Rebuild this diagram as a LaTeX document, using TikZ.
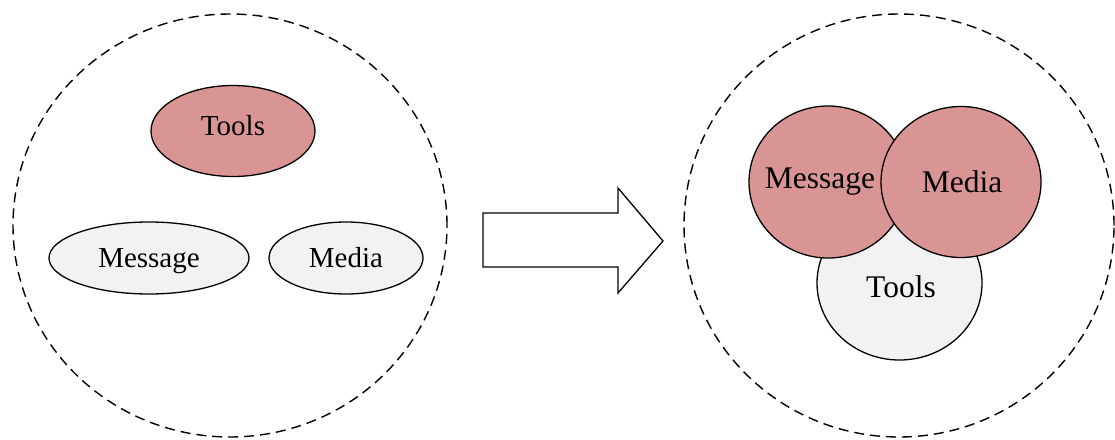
\documentclass[tikz,border=0pt]{standalone}
\usepackage{fontspec}
\setmainfont{Liberation Serif}
\usetikzlibrary{shapes.geometric}
\definecolor{rosefill}{HTML}{D99594}
\definecolor{greyfill}{HTML}{F2F2F2}
\tikzset{
  outer/.style={draw, ellipse, line width=1.4pt, dash pattern=on 10pt off 6pt, inner sep=0pt},
  bubble/.style={draw, ellipse, line width=1.3pt, inner sep=0pt},
  rose/.style={bubble, fill=rosefill},
  grey/.style={bubble, fill=greyfill},
  lefttext/.style={anchor=base, inner sep=0pt, font=\fontsize{29}{32}\selectfont},
  righttext/.style={anchor=base, inner sep=0pt, font=\fontsize{31.5}{34}\selectfont},
}
\begin{document}
\begin{tikzpicture}[x=1pt, y=-1pt]
\useasboundingbox (0,0) rectangle (1115,439);
% left group
\node[outer, minimum width=434pt, minimum height=423pt] (leftring) at (230,225.5) {};
\node[rose, minimum width=164pt, minimum height=91pt] (tools1) at (233,131) {};
\node[lefttext] (tools1text) at (233,135) {Tools};
\node[grey, minimum width=200pt, minimum height=72pt] (message1) at (149,258) {};
\node[lefttext] (message1text) at (149,267) {Message};
\node[grey, minimum width=154pt, minimum height=72pt] (media1) at (346,258) {};
\node[lefttext] (media1text) at (346,267) {Media};
% arrow
\draw[line width=1.3pt, line join=miter, fill=white]
  (483,213) -- (618,213) -- (618,188) -- (663,241) -- (618,293) -- (618,267) -- (483,267) -- cycle;
% right group
\node[outer, minimum width=430pt, minimum height=423pt] (rightring) at (899,225.5) {};
\node[grey, minimum width=165pt, minimum height=154pt] (tools2) at (899.5,283) {};
\node[righttext] (tools2text) at (901,297) {Tools};
\node[rose, minimum width=158pt, minimum height=152pt] (message2) at (828,182) {};
\node[righttext] (message2text) at (820,188) {Message};
\node[rose, minimum width=160pt, minimum height=151pt] (media2) at (961,182) {};
\node[righttext] (media2text) at (962,192) {Media};
\end{tikzpicture}
\end{document}
